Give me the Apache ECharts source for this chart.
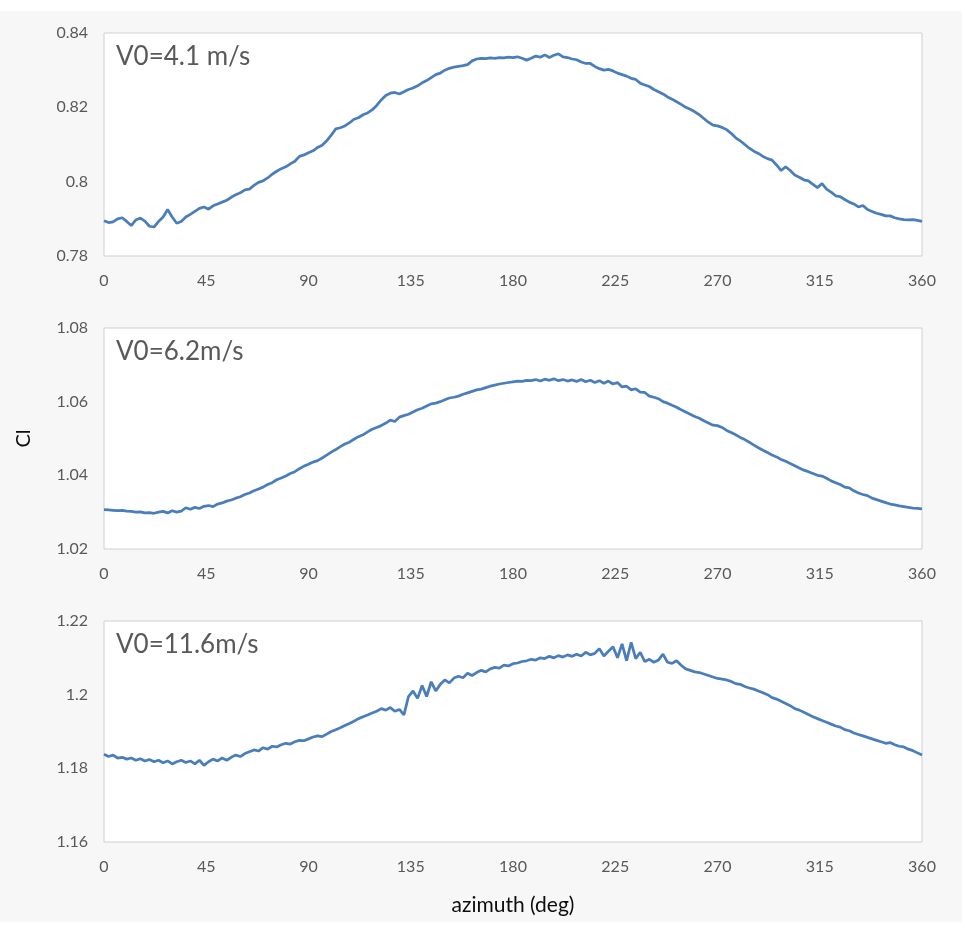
<!DOCTYPE html>
<html><head><meta charset="utf-8">
<script src="https://cdn.jsdelivr.net/npm/echarts@6/dist/echarts.min.js"></script>
<style>html,body{margin:0;padding:0;background:#fff}#c{width:965px;height:930px}</style>
</head><body><div id="c"></div>
<script>
const azimuth = [0,2,4,6,8,10,12,14,16,18,20,22,24,26,28,30,32,34,36,38,40,42,44,46,48,50,52,54,56,58,60,62,64,66,68,70,72,74,76,78,80,82,84,86,88,90,92,94,96,98,100,102,104,106,108,110,112,114,116,118,120,122,124,126,128,130,132,134,136,138,140,142,144,146,148,150,152,154,156,158,160,162,164,166,168,170,172,174,176,178,180,182,184,186,188,190,192,194,196,198,200,202,204,206,208,210,212,214,216,218,220,222,224,226,228,230,232,234,236,238,240,242,244,246,248,250,252,254,256,258,260,262,264,266,268,270,272,274,276,278,280,282,284,286,288,290,292,294,296,298,300,302,304,306,308,310,312,314,316,318,320,322,324,326,328,330,332,334,336,338,340,342,344,346,348,350,352,354,356,358,360];

const cl_v41 = [0.7895,0.7890,0.7892,0.7900,0.7903,0.7893,0.7882,0.7897,0.7902,0.7894,0.7880,0.7878,0.7893,0.7905,0.7925,0.7905,0.7888,0.7893,0.7905,0.7912,0.7920,0.7928,0.7932,0.7926,0.7935,0.7940,0.7945,0.7950,0.7958,0.7965,0.7970,0.7978,0.7980,0.7990,0.7998,0.8002,0.8010,0.8020,0.8028,0.8035,0.8040,0.8048,0.8055,0.8068,0.8072,0.8078,0.8083,0.8092,0.8098,0.8110,0.8125,0.8142,0.8145,0.8150,0.8158,0.8168,0.8172,0.8180,0.8185,0.8193,0.8205,0.8220,0.8232,0.8238,0.8240,0.8236,0.8242,0.8248,0.8252,0.8258,0.8266,0.8272,0.8280,0.8288,0.8292,0.8300,0.8305,0.8308,0.8310,0.8312,0.8315,0.8325,0.8330,0.8332,0.8331,0.8333,0.8332,0.8334,0.8333,0.8335,0.8334,0.8336,0.8332,0.8327,0.8332,0.8338,0.8335,0.8341,0.8334,0.8340,0.8344,0.8336,0.8334,0.8330,0.8328,0.8322,0.8318,0.8318,0.8310,0.8304,0.8300,0.8302,0.8298,0.8292,0.8288,0.8284,0.8278,0.8275,0.8265,0.8260,0.8256,0.8248,0.8242,0.8236,0.8228,0.8222,0.8215,0.8208,0.8200,0.8195,0.8188,0.8180,0.8170,0.8160,0.8152,0.8150,0.8146,0.8140,0.8130,0.8118,0.8110,0.8100,0.8090,0.8082,0.8076,0.8068,0.8062,0.8058,0.8045,0.8030,0.8040,0.8030,0.8018,0.8012,0.8005,0.8002,0.7993,0.7984,0.7995,0.7980,0.7972,0.7962,0.7960,0.7952,0.7945,0.7940,0.7932,0.7936,0.7925,0.7920,0.7915,0.7912,0.7908,0.7908,0.7903,0.7900,0.7898,0.7897,0.7898,0.7896,0.7893];

const cl_v62 = [1.0307,1.0306,1.0305,1.0304,1.0305,1.0303,1.0302,1.0300,1.0301,1.0298,1.0299,1.0297,1.0300,1.0302,1.0298,1.0304,1.0300,1.0303,1.0312,1.0308,1.0313,1.0310,1.0316,1.0318,1.0315,1.0322,1.0325,1.0330,1.0333,1.0338,1.0342,1.0348,1.0352,1.0358,1.0363,1.0368,1.0375,1.0380,1.0388,1.0393,1.0398,1.0405,1.0410,1.0418,1.0425,1.0430,1.0436,1.0440,1.0447,1.0455,1.0463,1.0470,1.0478,1.0485,1.0490,1.0498,1.0505,1.0510,1.0518,1.0525,1.0530,1.0535,1.0542,1.0550,1.0546,1.0558,1.0562,1.0566,1.0572,1.0578,1.0582,1.0588,1.0594,1.0596,1.0600,1.0605,1.0610,1.0612,1.0615,1.0620,1.0624,1.0628,1.0632,1.0634,1.0638,1.0642,1.0645,1.0648,1.0650,1.0652,1.0654,1.0656,1.0655,1.0658,1.0657,1.0660,1.0656,1.0661,1.0658,1.0662,1.0657,1.0660,1.0656,1.0659,1.0655,1.0660,1.0654,1.0658,1.0652,1.0657,1.0650,1.0656,1.0648,1.0652,1.0640,1.0642,1.0632,1.0635,1.0626,1.0625,1.0615,1.0612,1.0608,1.0600,1.0596,1.0590,1.0585,1.0578,1.0572,1.0566,1.0560,1.0555,1.0548,1.0542,1.0536,1.0535,1.0530,1.0522,1.0516,1.0510,1.0503,1.0497,1.0490,1.0482,1.0475,1.0468,1.0462,1.0455,1.0450,1.0443,1.0438,1.0432,1.0426,1.0420,1.0414,1.0410,1.0405,1.0400,1.0398,1.0392,1.0385,1.0380,1.0375,1.0368,1.0366,1.0358,1.0352,1.0348,1.0345,1.0338,1.0334,1.0330,1.0326,1.0322,1.0320,1.0317,1.0315,1.0313,1.0311,1.0310,1.0309];

const cl_v116 = [1.1838,1.1832,1.1836,1.1828,1.1830,1.1825,1.1828,1.1822,1.1826,1.1820,1.1824,1.1818,1.1822,1.1815,1.1820,1.1812,1.1818,1.1822,1.1816,1.1820,1.1812,1.1822,1.1808,1.1818,1.1825,1.1820,1.1828,1.1822,1.1830,1.1836,1.1832,1.1840,1.1845,1.1850,1.1847,1.1856,1.1852,1.1860,1.1858,1.1864,1.1868,1.1866,1.1872,1.1876,1.1875,1.1880,1.1885,1.1888,1.1886,1.1893,1.1900,1.1905,1.1910,1.1916,1.1922,1.1928,1.1935,1.1940,1.1945,1.1950,1.1955,1.1962,1.1958,1.1965,1.1955,1.1960,1.1945,1.1995,1.2010,1.1990,1.2025,1.1995,1.2035,1.2010,1.2028,1.2040,1.2032,1.2045,1.2050,1.2046,1.2058,1.2052,1.2060,1.2066,1.2062,1.2070,1.2074,1.2072,1.2080,1.2078,1.2084,1.2086,1.2090,1.2092,1.2096,1.2094,1.2100,1.2098,1.2104,1.2100,1.2106,1.2102,1.2108,1.2104,1.2110,1.2105,1.2115,1.2108,1.2112,1.2125,1.2105,1.2118,1.2130,1.2100,1.2138,1.2092,1.2142,1.2098,1.2115,1.2090,1.2096,1.2088,1.2094,1.2110,1.2088,1.2085,1.2092,1.2080,1.2070,1.2066,1.2062,1.2060,1.2056,1.2052,1.2048,1.2044,1.2042,1.2040,1.2036,1.2030,1.2028,1.2022,1.2018,1.2015,1.2010,1.2005,1.2000,1.1992,1.1988,1.1982,1.1976,1.1970,1.1962,1.1958,1.1952,1.1946,1.1940,1.1935,1.1930,1.1925,1.1920,1.1915,1.1912,1.1905,1.1902,1.1896,1.1892,1.1888,1.1884,1.1880,1.1876,1.1872,1.1868,1.1870,1.1864,1.1860,1.1858,1.1852,1.1848,1.1842,1.1836];

const panelLabels = ['V0=4.1 m/s', 'V0=6.2m/s', 'V0=11.6m/s'];
const yRanges = [[0.78, 0.84], [1.02, 1.08], [1.16, 1.22]];
const xTicks = [0, 360, 45];
const yLabel = 'Cl';
const xLabel = 'azimuth (deg)';

const seriesList = [cl_v41, cl_v62, cl_v116];
const grids = [
  {left: 104, top: 33, width: 818, height: 223},
  {left: 104, top: 328, width: 818, height: 221},
  {left: 104, top: 621, width: 818, height: 221}
];
const FONT = 'Lato, "Open Sans", sans-serif';

const chart = echarts.init(document.getElementById('c'));
const option = {
  backgroundColor: '#ffffff',
  animation: false,
  graphic: {elements: [{type: 'rect', z: -100, shape: {x: 0, y: 11, width: 962, height: 911}, style: {fill: '#f7f7f7'}}]},
  title: panelLabels.map((t, i) => ({
    text: t, left: 111, top: grids[i].top + 6,
    textStyle: {fontFamily: FONT, fontSize: 26, fontWeight: 'normal', color: '#595959'}
  })),
  grid: grids.map(g => Object.assign({show: true, backgroundColor: '#ffffff', borderColor: '#cfcfcf', borderWidth: 1}, g)),
  xAxis: grids.map((g, i) => ({
    type: 'value', gridIndex: i, min: xTicks[0], max: xTicks[1], interval: xTicks[2],
    axisLine: {show: false}, axisTick: {show: false}, splitLine: {show: false},
    axisLabel: {fontFamily: FONT, fontSize: 16, color: '#595959', margin: 17},
    name: i === 2 ? xLabel : '', nameLocation: 'middle', nameGap: 53,
    nameTextStyle: {fontFamily: FONT, fontSize: 21, color: '#0d0d0d'}
  })),
  yAxis: grids.map((g, i) => ({
    type: 'value', gridIndex: i, min: yRanges[i][0], max: yRanges[i][1], interval: 0.02,
    axisLine: {show: false}, axisTick: {show: false}, splitLine: {show: false},
    axisLabel: {fontFamily: FONT, fontSize: 16, color: '#595959', margin: 16},
    name: i === 1 ? yLabel : '', nameLocation: 'middle', nameGap: 70,
    nameTextStyle: {fontFamily: FONT, fontSize: 20, color: '#0d0d0d'}
  })),
  series: seriesList.map((vals, i) => ({
    type: 'line', xAxisIndex: i, yAxisIndex: i, showSymbol: false, silent: true,
    lineStyle: {color: '#4a7ebb', width: 2.75},
    data: azimuth.map((a, k) => [a, vals[k]])
  }))
};
chart.setOption(option);
</script>
</body></html>
